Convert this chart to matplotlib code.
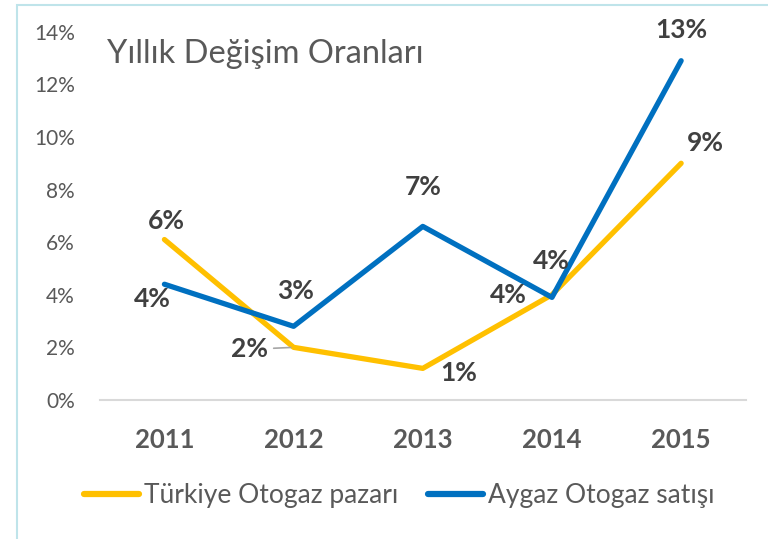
import matplotlib
matplotlib.use("Agg")
import matplotlib.pyplot as plt
from matplotlib.patches import Rectangle

plt.rcParams["font.family"] = ["Lato", "DejaVu Sans"]

# Data (yearly change, %)
years = ["2011", "2012", "2013", "2014", "2015"]
turkiye = [6.1, 2.0, 1.2, 4.0, 9.0]
aygaz = [4.4, 2.8, 6.6, 3.9, 12.9]

# label offsets in pixels relative to each point
turkiye_offsets = [(2, 19), (-44, -2), (36, -5), (-44, 0), (24, 20)]
aygaz_offsets = [(-12, -15), (2, 35), (0, 39), (-1, 36), (0, 31)]

yellow = "#FFC000"
blue = "#0070C0"
label_color = "#404040"
tick_color = "#595959"

fig = plt.figure(figsize=(7.68, 5.39), dpi=100)
ax = fig.add_axes([0.130, 0.258, 0.841, 0.683])

# outer chart border (left and top visible)
fig.patches.append(Rectangle((17 / 768, -0.1), 1.2, 1 - 5 / 539 + 0.1,
                             transform=fig.transFigure, fill=False,
                             edgecolor="#BFE4EA", linewidth=1.5))

x = list(range(len(years)))
ax.plot(x, turkiye, color=yellow, lw=3.8, solid_capstyle="round",
        solid_joinstyle="round", label="Türkiye Otogaz pazarı", zorder=3)
ax.plot(x, aygaz, color=blue, lw=3.8, solid_capstyle="round",
        solid_joinstyle="round", label="Aygaz Otogaz satışı", zorder=4)

for i, (v, off) in enumerate(zip(turkiye, turkiye_offsets)):
    kw = {}
    if i == 1:
        kw["arrowprops"] = dict(arrowstyle="-", color="#A6A6A6", lw=1.2,
                                shrinkA=2, shrinkB=2)
    ax.annotate(f"{v:.0f}%", (i, v), xytext=off, textcoords="offset pixels",
                ha="center", va="center", fontsize=19, fontweight="bold",
                color=label_color, zorder=5, **kw)
for i, (v, off) in enumerate(zip(aygaz, aygaz_offsets)):
    ax.annotate(f"{v:.0f}%", (i, v), xytext=off, textcoords="offset pixels",
                ha="center", va="center", fontsize=19, fontweight="bold",
                color=label_color, zorder=5)

ax.set_xlim(-0.5, 4.5)
ax.set_ylim(0, 14)
ax.set_yticks(range(0, 15, 2))
ax.set_yticklabels([f"{t}%" for t in range(0, 15, 2)])
ax.set_xticks(x)
ax.set_xticklabels(years, fontweight="bold")

for s in ["top", "right", "left"]:
    ax.spines[s].set_visible(False)
ax.spines["bottom"].set_color("#D9D9D9")
ax.spines["bottom"].set_linewidth(1.5)
ax.tick_params(axis="y", length=0, pad=18, labelsize=15, labelcolor=tick_color)
ax.tick_params(axis="x", length=0, pad=20, labelsize=18.5, labelcolor=tick_color)

ax.text(0.011, 0.94, "Yıllık Değişim Oranları", transform=ax.transAxes,
        fontsize=23.5, color=tick_color, ha="left", va="center")

fig.legend(loc="center", bbox_to_anchor=(0.52, 0.08), ncol=2, frameon=False,
           fontsize=19, handlelength=2.1, handletextpad=0.2, columnspacing=1.1,
           labelcolor=tick_color)
for line in fig.legends[0].get_lines():
    line.set_linewidth(4.5)

fig.savefig("out.png", dpi=100)
